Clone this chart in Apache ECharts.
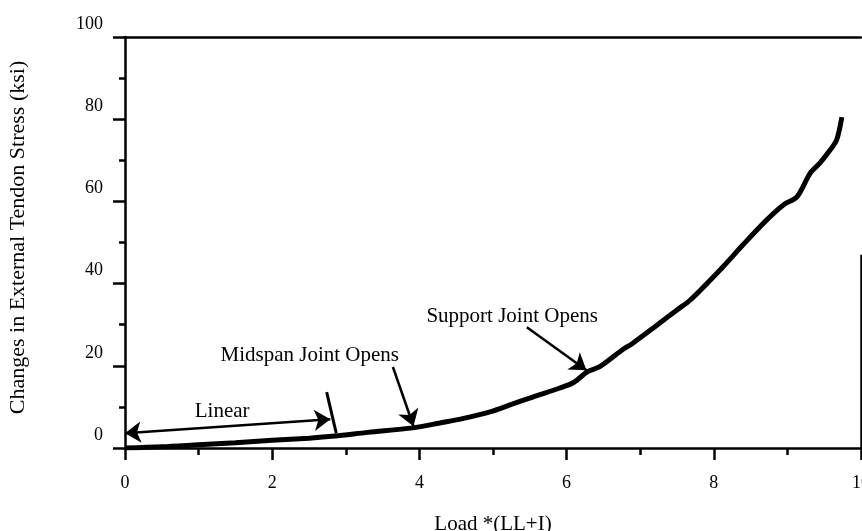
<!DOCTYPE html>
<html>
<head>
<meta charset="utf-8">
<script src="https://cdn.jsdelivr.net/npm/echarts@6/dist/echarts.min.js"></script>
<style>
html,body{margin:0;padding:0;background:#fff;}
#chart{width:862px;height:531px;}
</style>
</head>
<body>
<div id="chart"></div>
<script>
// ---- data ----
const loadX = [0, 0.5, 1.0, 1.5, 2.0, 2.5, 2.85, 3.3, 3.91, 4.28, 4.6, 4.96, 5.25, 5.54, 5.91, 6.1, 6.28, 6.45, 6.75, 6.9, 7.2, 7.5, 7.68, 8.12, 8.4, 8.72, 8.95, 9.13, 9.31, 9.44, 9.58, 9.67, 9.74];
const stressY = [0, 0.3, 0.8, 1.3, 1.9, 2.4, 2.9, 3.8, 4.9, 6.1, 7.2, 8.8, 10.6, 12.4, 14.6, 16.0, 18.5, 19.8, 23.8, 25.5, 29.5, 33.6, 36.0, 44.0, 49.5, 55.5, 59.2, 61.1, 66.9, 69.3, 72.5, 75.0, 80.5];

const xTicks = [0, 2, 4, 6, 8, 10];
const yTicks = [0, 20, 40, 60, 80, 100];

const xTitle = 'Load *(LL+I)';
const yTitle = 'Changes in External Tendon Stress (ksi)';

// annotations (text + anchor in data units)
const noteTexts = ['Linear', 'Midspan Joint Opens', 'Support Joint Opens'];
const noteX = [1.32, 2.51, 5.26];
const noteY = [8.8, 22.6, 31.9];

// annotation lines: [x1, y1, x2, y2, startSymbol, endSymbol]
const linearArrow = [0, 3.6, 2.79, 7.0, 'arrow', 'arrow'];
const linearStop = [2.74, 13.6, 2.87, 3.6, 'none', 'none'];
const midspanArrow = [3.64, 19.7, 3.92, 5.3, 'none', 'arrow'];
const supportArrow = [5.46, 29.4, 6.27, 18.9, 'none', 'arrow'];
const rightFrame = [10, 0, 10, 47, 'none', 'none'];

const serif = '"Liberation Serif", "DejaVu Serif", serif';

const curve = loadX.map((x, i) => [x, stressY[i]]);
const notes = noteTexts.map((t, i) => ({ value: [noteX[i], noteY[i]], name: t }));
const toLine = (a, w) => [
  { coord: [a[0], a[1]], symbol: a[4], lineStyle: { width: w } },
  { coord: [a[2], a[3]], symbol: a[5] }
];

const chart = echarts.init(document.getElementById('chart'), null, { renderer: 'canvas' });
chart.setOption({
  animation: false,
  backgroundColor: '#fff',
  grid: { left: 125, right: 1, top: 37, bottom: 83, containLabel: false, outerBoundsMode: 'none' },
  xAxis: [{
    type: 'value', min: 0, max: 10, interval: 2,
    name: xTitle, nameLocation: 'middle', nameGap: 66,
    nameTextStyle: { fontFamily: serif, fontSize: 21, color: '#000' },
    axisLine: { show: true, onZero: false, lineStyle: { color: '#000', width: 2.5 } },
    axisTick: { show: true, inside: false, length: 12, lineStyle: { color: '#000', width: 2.5 } },
    minorTick: { show: true, splitNumber: 2, length: 7, lineStyle: { color: '#000', width: 2.5 } },
    axisLabel: { margin: 26, fontFamily: serif, fontSize: 18, color: '#000',
      formatter: v => xTicks.includes(v) ? String(v) : '' },
    splitLine: { show: false }
  }, {
    type: 'value', min: 0, max: 10, position: 'top',
    axisLine: { show: true, onZero: false, lineStyle: { color: '#000', width: 2.5 } },
    axisTick: { show: false }, axisLabel: { show: false }, splitLine: { show: false }
  }],
  yAxis: [{
    type: 'value', min: 0, max: 100, interval: 20,
    name: yTitle, nameLocation: 'middle', nameGap: 96, nameRotate: 90,
    nameTextStyle: { fontFamily: serif, fontSize: 22, color: '#000', padding: [0, 0, 0, 10] },
    axisLine: { show: true, onZero: false, lineStyle: { color: '#000', width: 2.5 } },
    axisTick: { show: true, inside: false, length: 12, lineStyle: { color: '#000', width: 2.5 } },
    minorTick: { show: true, splitNumber: 2, length: 6, lineStyle: { color: '#000', width: 2.5 } },
    axisLabel: { margin: 22, fontFamily: serif, fontSize: 18, color: '#000',
      verticalAlign: 'bottom', lineHeight: 26,
      formatter: v => yTicks.includes(v) ? String(v) : '' },
    splitLine: { show: false }
  }],
  series: [{
    type: 'line',
    data: curve,
    showSymbol: false,
    smooth: 0.3,
    lineStyle: { color: '#000', width: 5 },
    z: 3,
    markLine: {
      silent: true,
      symbolSize: 16,
      label: { show: false },
      lineStyle: { color: '#000', type: 'solid', width: 2.5 },
      data: [
        toLine(linearArrow, 2.5),
        toLine(linearStop, 3),
        toLine(midspanArrow, 2.5),
        toLine(supportArrow, 2.5),
        toLine(rightFrame, 2.5)
      ]
    }
  }, {
    type: 'scatter',
    data: notes,
    symbolSize: 0,
    silent: true,
    itemStyle: { opacity: 1, color: '#000' },
    label: {
      show: true, position: 'inside',
      formatter: p => p.name,
      fontFamily: serif, fontSize: 21, color: '#000'
    }
  }]
});
</script>
</body>
</html>
